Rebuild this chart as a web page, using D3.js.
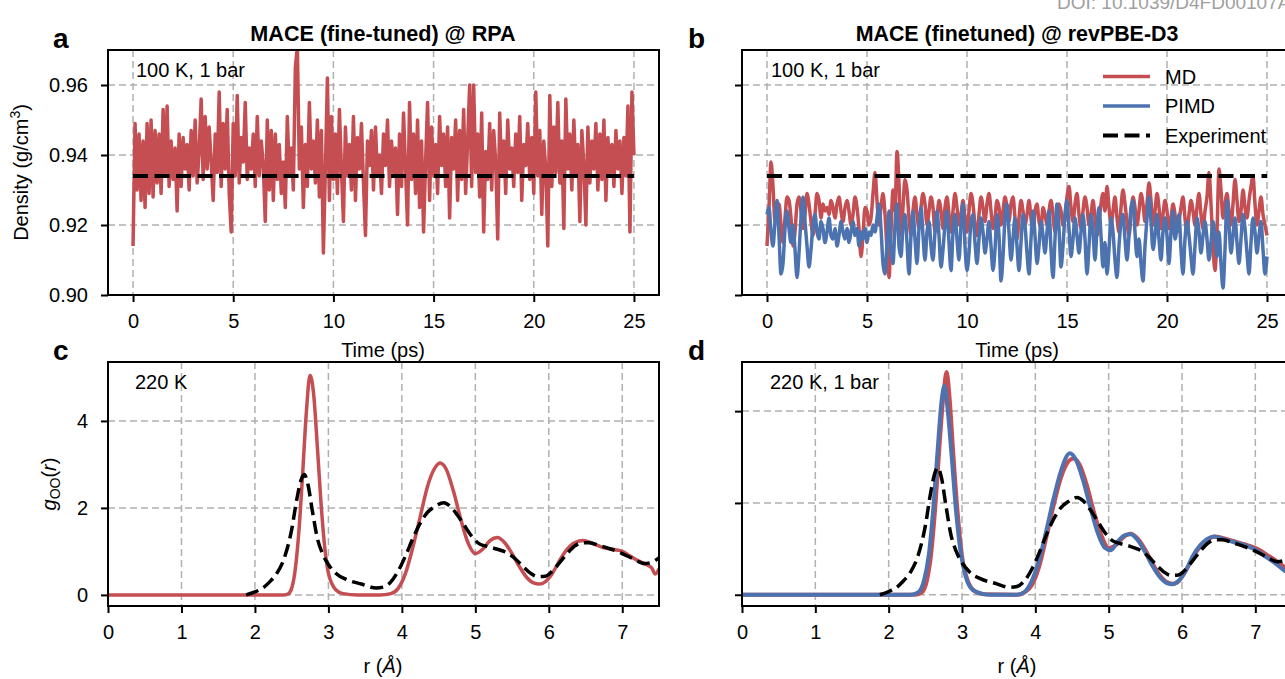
<!DOCTYPE html>
<html>
<head>
<meta charset="utf-8">
<script src="https://cdn.jsdelivr.net/npm/d3@7"></script>
<style>
  body { margin: 0; background: #fff; }
  text { font-family: "Liberation Sans", Arial, sans-serif; }
</style>
</head>
<body>
<svg id="fig" width="1285" height="679"></svg>
<script>
// ---- data ----
const timeStep = 0.1; // ps between density samples
const expDensity = 0.934;

// a: MACE (fine-tuned) @ RPA, MD density (g/cm3), 0..25 ps
const rpaDensityMD = [
  0.914, 0.949, 0.930, 0.946, 0.927, 0.944, 0.925, 0.949, 0.929, 0.950,
  0.928, 0.947, 0.932, 0.946, 0.929, 0.953, 0.934, 0.954, 0.931, 0.944,
  0.933, 0.942, 0.924, 0.946, 0.931, 0.945, 0.936, 0.943, 0.930, 0.947,
  0.934, 0.950, 0.932, 0.941, 0.956, 0.933, 0.951, 0.936, 0.948, 0.938,
  0.927, 0.946, 0.935, 0.958, 0.931, 0.949, 0.936, 0.953, 0.929, 0.918,
  0.949, 0.934, 0.957, 0.932, 0.945, 0.938, 0.955, 0.933, 0.942, 0.936,
  0.946, 0.931, 0.951, 0.934, 0.944, 0.937, 0.921, 0.950, 0.930, 0.947,
  0.927, 0.946, 0.933, 0.943, 0.929, 0.938, 0.925, 0.951, 0.934, 0.942,
  0.930, 0.965, 0.971, 0.936, 0.948, 0.925, 0.943, 0.931, 0.955, 0.936,
  0.944, 0.932, 0.950, 0.928, 0.947, 0.912, 0.936, 0.962, 0.927, 0.951,
  0.933, 0.946, 0.929, 0.953, 0.936, 0.921, 0.948, 0.934, 0.943, 0.930,
  0.951, 0.927, 0.945, 0.936, 0.949, 0.932, 0.917, 0.944, 0.937, 0.947,
  0.930, 0.948, 0.934, 0.940, 0.929, 0.946, 0.937, 0.950, 0.931, 0.944,
  0.935, 0.942, 0.923, 0.946, 0.931, 0.952, 0.936, 0.920, 0.955, 0.933,
  0.946, 0.929, 0.950, 0.925, 0.944, 0.918, 0.938, 0.955, 0.927, 0.948,
  0.934, 0.943, 0.929, 0.951, 0.937, 0.946, 0.931, 0.948, 0.922, 0.945,
  0.936, 0.950, 0.927, 0.947, 0.933, 0.953, 0.929, 0.944, 0.960, 0.931,
  0.960, 0.935, 0.946, 0.928, 0.952, 0.918, 0.941, 0.933, 0.949, 0.930,
  0.947, 0.938, 0.916, 0.952, 0.934, 0.944, 0.929, 0.950, 0.936, 0.942,
  0.931, 0.946, 0.935, 0.951, 0.927, 0.943, 0.937, 0.949, 0.933, 0.945,
  0.929, 0.958, 0.934, 0.947, 0.923, 0.944, 0.936, 0.914, 0.957, 0.931,
  0.948, 0.935, 0.955, 0.932, 0.944, 0.919, 0.956, 0.936, 0.946, 0.930,
  0.950, 0.934, 0.943, 0.921, 0.947, 0.937, 0.920, 0.948, 0.932, 0.944,
  0.936, 0.949, 0.930, 0.946, 0.933, 0.950, 0.927, 0.945, 0.935, 0.943,
  0.931, 0.947, 0.936, 0.944, 0.929, 0.945, 0.934, 0.954, 0.918, 0.958,
  0.940
];

// b: MACE (finetuned) @ revPBE-D3
const revDensityMD = [
  0.914, 0.925, 0.938, 0.931, 0.921, 0.925, 0.926, 0.920, 0.915, 0.922,
  0.928, 0.927, 0.922, 0.914, 0.918, 0.926, 0.928, 0.924, 0.919, 0.923,
  0.929, 0.926, 0.921, 0.917, 0.923, 0.929, 0.927, 0.922, 0.926, 0.924,
  0.925, 0.923, 0.927, 0.925, 0.922, 0.926, 0.928, 0.924, 0.921, 0.925,
  0.927, 0.924, 0.920, 0.923, 0.928, 0.925, 0.919, 0.911, 0.917, 0.925,
  0.924, 0.920, 0.922, 0.929, 0.935, 0.927, 0.920, 0.925, 0.929, 0.923,
  0.913, 0.905, 0.918, 0.930, 0.924, 0.941, 0.932, 0.917, 0.925, 0.933,
  0.930, 0.922, 0.917, 0.924, 0.928, 0.923, 0.919, 0.925, 0.929, 0.926,
  0.920, 0.924, 0.928, 0.925, 0.918, 0.922, 0.927, 0.924, 0.919, 0.925,
  0.928, 0.923, 0.918, 0.924, 0.929, 0.925, 0.920, 0.923, 0.927, 0.922,
  0.918, 0.924, 0.929, 0.926, 0.920, 0.917, 0.923, 0.928, 0.925, 0.921,
  0.926, 0.929, 0.924, 0.919, 0.922, 0.927, 0.925, 0.920, 0.924, 0.928,
  0.925, 0.921, 0.926, 0.928, 0.922, 0.916, 0.922, 0.927, 0.924, 0.920,
  0.923, 0.927, 0.922, 0.918, 0.924, 0.926, 0.921, 0.919, 0.925, 0.923,
  0.920, 0.924, 0.927, 0.923, 0.918, 0.921, 0.926, 0.924, 0.920, 0.922,
  0.928, 0.931, 0.925, 0.921, 0.926, 0.929, 0.923, 0.919, 0.924, 0.928,
  0.925, 0.920, 0.923, 0.927, 0.922, 0.917, 0.921, 0.926, 0.929, 0.924,
  0.931, 0.925, 0.920, 0.924, 0.928, 0.922, 0.918, 0.925, 0.930, 0.926,
  0.921, 0.917, 0.923, 0.928, 0.925, 0.920, 0.924, 0.929, 0.926, 0.921,
  0.926, 0.932, 0.927, 0.920, 0.924, 0.929, 0.925, 0.919, 0.923, 0.927,
  0.924, 0.919, 0.922, 0.926, 0.923, 0.918, 0.921, 0.925, 0.928, 0.922,
  0.918, 0.923, 0.927, 0.924, 0.920, 0.925, 0.929, 0.923, 0.919, 0.924,
  0.928, 0.935, 0.926, 0.914, 0.907, 0.918, 0.936, 0.930, 0.922, 0.926,
  0.929, 0.924, 0.920, 0.926, 0.933, 0.927, 0.921, 0.924, 0.930, 0.925,
  0.922, 0.927, 0.931, 0.934, 0.926, 0.920, 0.924, 0.928, 0.923, 0.920,
  0.917
];
const revDensityPIMD = [
  0.923, 0.925, 0.918, 0.914, 0.921, 0.927, 0.917, 0.906, 0.909, 0.919,
  0.924, 0.919, 0.915, 0.920, 0.913, 0.905, 0.912, 0.922, 0.928, 0.921,
  0.914, 0.908, 0.913, 0.920, 0.923, 0.918, 0.916, 0.921, 0.919, 0.915,
  0.918, 0.922, 0.917, 0.916, 0.919, 0.914, 0.917, 0.921, 0.918, 0.916,
  0.919, 0.915, 0.918, 0.921, 0.917, 0.919, 0.914, 0.918, 0.916, 0.919,
  0.915, 0.918, 0.917, 0.920, 0.918, 0.922, 0.926, 0.919, 0.909, 0.906,
  0.915, 0.924, 0.912, 0.909, 0.920, 0.926, 0.914, 0.911, 0.920, 0.923,
  0.915, 0.906, 0.917, 0.924, 0.916, 0.909, 0.919, 0.925, 0.917, 0.910,
  0.918, 0.921, 0.914, 0.910, 0.918, 0.924, 0.917, 0.908, 0.913, 0.920,
  0.924, 0.915, 0.907, 0.918, 0.923, 0.916, 0.910, 0.920, 0.926, 0.914,
  0.907, 0.912, 0.921, 0.923, 0.915, 0.909, 0.916, 0.922, 0.918, 0.912,
  0.916, 0.921, 0.914, 0.907, 0.913, 0.923, 0.917, 0.904, 0.911, 0.922,
  0.926, 0.918, 0.910, 0.916, 0.922, 0.914, 0.907, 0.915, 0.923, 0.920,
  0.912, 0.906, 0.916, 0.924, 0.917, 0.909, 0.914, 0.921, 0.917, 0.912,
  0.918, 0.924, 0.913, 0.905, 0.916, 0.926, 0.919, 0.908, 0.914, 0.923,
  0.927, 0.919, 0.911, 0.916, 0.922, 0.917, 0.912, 0.918, 0.923, 0.916,
  0.906, 0.914, 0.923, 0.918, 0.910, 0.919, 0.925, 0.917, 0.908, 0.915,
  0.906, 0.913, 0.922, 0.918, 0.910, 0.905, 0.914, 0.921, 0.923, 0.916,
  0.910, 0.917, 0.925, 0.927, 0.918, 0.911, 0.916, 0.909, 0.904, 0.914,
  0.922, 0.928, 0.921, 0.913, 0.917, 0.923, 0.916, 0.910, 0.918, 0.922,
  0.917, 0.909, 0.918, 0.924, 0.916, 0.919, 0.923, 0.913, 0.906, 0.916,
  0.921, 0.917, 0.911, 0.906, 0.914, 0.922, 0.918, 0.912, 0.917, 0.921,
  0.916, 0.910, 0.915, 0.921, 0.917, 0.911, 0.918, 0.909, 0.902, 0.913,
  0.927, 0.920, 0.912, 0.917, 0.922, 0.915, 0.909, 0.916, 0.923, 0.919,
  0.912, 0.906, 0.915, 0.922, 0.918, 0.912, 0.917, 0.921, 0.913, 0.906,
  0.911
];

// c/d: oxygen-oxygen RDF, [r (Å), g(r)]
const gooExperiment = [
  [1.88,0],[2.00,0.07],[2.10,0.15],[2.20,0.3],[2.30,0.5],[2.40,0.85],[2.50,1.5],[2.57,2.2],
  [2.63,2.65],[2.67,2.77],[2.72,2.55],[2.78,1.95],[2.85,1.3],[2.92,0.95],[3.00,0.7],[3.10,0.5],
  [3.25,0.35],[3.45,0.25],[3.65,0.16],[3.75,0.18],[3.85,0.3],[3.95,0.55],[4.05,0.9],[4.15,1.3],
  [4.25,1.65],[4.35,1.9],[4.45,2.03],[4.57,2.12],[4.65,2.05],[4.75,1.85],[4.85,1.6],[4.95,1.35],
  [5.05,1.18],[5.15,1.12],[5.30,1.05],[5.45,0.95],[5.55,0.82],[5.65,0.65],[5.75,0.5],[5.85,0.42],
  [5.95,0.43],[6.05,0.55],[6.15,0.75],[6.25,0.95],[6.35,1.12],[6.45,1.2],[6.55,1.2],[6.70,1.13],
  [6.85,1.05],[7.00,0.95],[7.15,0.83],[7.30,0.72],[7.40,0.75],[7.50,0.85]
];
const gooRpaMD = [
  [0,0],[2.40,0],[2.45,0.02],[2.50,0.15],[2.55,0.6],[2.60,1.5],[2.65,2.8],[2.70,4.2],[2.75,5.05],
  [2.80,4.6],[2.85,3.4],[2.90,2.1],[2.95,1.1],[3.00,0.5],[3.10,0.12],[3.20,0.03],[3.40,0],[3.70,0],
  [3.85,0.03],[3.95,0.15],[4.05,0.5],[4.15,1.1],[4.25,1.8],[4.35,2.5],[4.45,2.92],[4.52,3.03],
  [4.60,2.9],[4.70,2.4],[4.80,1.75],[4.90,1.2],[5.00,0.95],[5.10,1.05],[5.20,1.25],[5.30,1.32],
  [5.40,1.2],[5.50,0.95],[5.60,0.65],[5.70,0.4],[5.80,0.27],[5.87,0.25],[5.95,0.3],[6.05,0.5],
  [6.15,0.8],[6.25,1.05],[6.35,1.2],[6.47,1.25],[6.60,1.18],[6.75,1.08],[6.90,1.04],[7.00,1.0],
  [7.10,0.9],[7.20,0.8],[7.30,0.72],[7.40,0.62],[7.45,0.48],[7.50,0.6]
];
const gooRevMD = [
  [0,0],[2.35,0],[2.45,0.05],[2.52,0.3],[2.58,0.9],[2.64,2.0],[2.70,3.4],[2.75,4.4],[2.79,4.85],
  [2.83,4.3],[2.88,3.1],[2.94,1.8],[3.00,0.85],[3.08,0.3],[3.18,0.07],[3.30,0.01],[3.75,0],
  [3.85,0.05],[3.95,0.2],[4.05,0.6],[4.15,1.25],[4.25,1.95],[4.35,2.55],[4.45,2.9],[4.52,2.97],
  [4.60,2.85],[4.70,2.4],[4.80,1.8],[4.90,1.3],[5.00,1.02],[5.10,1.08],[5.20,1.25],[5.30,1.33],
  [5.40,1.22],[5.50,0.98],[5.60,0.68],[5.70,0.42],[5.80,0.27],[5.88,0.24],[5.97,0.32],[6.05,0.52],
  [6.15,0.82],[6.25,1.05],[6.35,1.2],[6.45,1.27],[6.55,1.24],[6.70,1.17],[6.85,1.1],[7.00,1.02],
  [7.15,0.88],[7.30,0.72],[7.40,0.6],[7.50,0.5]
];
const gooRevPIMD = [
  [0,0],[2.30,0],[2.40,0.05],[2.48,0.3],[2.55,0.9],[2.61,1.9],[2.67,3.2],[2.72,4.2],[2.76,4.55],
  [2.80,4.1],[2.86,3.0],[2.92,1.8],[2.98,0.95],[3.05,0.4],[3.15,0.1],[3.28,0.02],[3.40,0],[3.75,0],
  [3.85,0.06],[3.95,0.3],[4.05,0.75],[4.15,1.4],[4.25,2.1],[4.35,2.7],[4.47,3.08],[4.55,2.95],
  [4.65,2.5],[4.75,1.9],[4.85,1.35],[4.95,1.02],[5.03,0.97],[5.12,1.15],[5.22,1.3],[5.30,1.32],
  [5.40,1.18],[5.50,0.92],[5.60,0.62],[5.70,0.38],[5.80,0.25],[5.87,0.23],[5.95,0.3],[6.05,0.52],
  [6.15,0.85],[6.25,1.08],[6.35,1.22],[6.43,1.27],[6.55,1.22],[6.70,1.15],[6.85,1.08],[7.00,0.98],
  [7.15,0.82],[7.30,0.65],[7.40,0.52],[7.50,0.45]
];

const timeTicks = [0, 5, 10, 15, 20, 25];
const densityTicks = [0.90, 0.92, 0.94, 0.96];
const rTicks = [0, 1, 2, 3, 4, 5, 6, 7];
const gTicks = [0, 2, 4];
const legendLabels = ['MD', 'PIMD', 'Experiment'];

// ---- drawing ----
const RED = '#c44e52', BLUE = '#4c72b0';
const FONT = 20;
const svg = d3.select('#fig');
let clipCount = 0;

function panel(box, x, y, xTicks, yTicks, xFmt, yFmt) {
  const g = svg.append('g');
  const id = 'clip' + (clipCount++);
  svg.append('clipPath').attr('id', id)
    .append('rect')
      .attr('x', box.l).attr('y', box.t)
      .attr('width', box.r - box.l).attr('height', box.b - box.t);

  const grid = g.append('g')
      .attr('stroke', '#b0b0b0')
      .attr('stroke-width', 1.5)
      .attr('stroke-dasharray', '7,4');
  grid.selectAll('.gx').data(xTicks).join('line')
      .attr('x1', d => x(d)).attr('x2', d => x(d))
      .attr('y1', box.t).attr('y2', box.b);
  grid.selectAll('.gy').data(yTicks).join('line')
      .attr('y1', d => y(d)).attr('y2', d => y(d))
      .attr('x1', box.l).attr('x2', box.r);

  const plot = g.append('g').attr('clip-path', `url(#${id})`);

  // axes & frame drawn after data
  const finish = () => {
    const ax = g.append('g')
        .attr('transform', `translate(0,${box.b})`)
        .call(d3.axisBottom(x).tickValues(xTicks).tickSize(7).tickSizeOuter(0).tickPadding(12).tickFormat(xFmt));
    const ay = g.append('g')
        .attr('transform', `translate(${box.l},0)`)
        .call(d3.axisLeft(y).tickValues(yTicks).tickSize(7).tickSizeOuter(0).tickPadding(13).tickFormat(yFmt));
    [ax, ay].forEach(a => {
      a.select('.domain').remove();
      a.attr('font-size', FONT).attr('font-family', null);
      a.selectAll('line').attr('stroke', '#000').attr('stroke-width', 2);
      a.selectAll('text').attr('fill', '#000');
    });
    g.append('rect')
        .attr('x', box.l).attr('y', box.t)
        .attr('width', box.r - box.l).attr('height', box.b - box.t)
        .attr('fill', 'none').attr('stroke', '#000').attr('stroke-width', 2);
  };
  return { g, plot, finish };
}

function txt(x, y, s, opts = {}) {
  return svg.append('text')
      .attr('x', x).attr('y', y)
      .attr('font-size', opts.size || FONT)
      .attr('font-weight', opts.bold ? 'bold' : null)
      .attr('text-anchor', opts.anchor || 'start')
      .attr('fill', opts.fill || '#000')
      .text(s);
}

const boxA = { l: 108, r: 659, t: 50, b: 295 };
const boxB = { l: 742, r: 1292, t: 50, b: 295 };
const boxC = { l: 108, r: 659, t: 362, b: 606 };
const boxD = { l: 742, r: 1292, t: 362, b: 606 };

const fmtInt = d3.format('d');
const fmt2 = d3.format('.2f');
const none = () => '';

// time series panels
const xTimeA = d3.scaleLinear().domain([-1.25, 26.25]).range([boxA.l, boxA.r]);
const xTimeB = d3.scaleLinear().domain([-1.25, 26.25]).range([boxB.l, boxB.r]);
const yDensA = d3.scaleLinear().domain([0.90, 0.97]).range([boxA.b, boxA.t]);
const yDensB = d3.scaleLinear().domain([0.90, 0.97]).range([boxB.b, boxB.t]);

function densLine(x, y, curve) {
  return d3.line().x((d, i) => x(i * timeStep)).y(d => y(d)).curve(curve || d3.curveLinear);
}
function expLine(plot, x, y) {
  plot.append('line')
      .attr('x1', x(0)).attr('x2', x(25))
      .attr('y1', y(expDensity)).attr('y2', y(expDensity))
      .attr('stroke', '#000').attr('stroke-width', 4).attr('stroke-dasharray', '15,6.5');
}

const pa = panel(boxA, xTimeA, yDensA, timeTicks, densityTicks, fmtInt, fmt2);
pa.plot.append('path').datum(rpaDensityMD)
    .attr('d', densLine(xTimeA, yDensA))
    .attr('fill', 'none').attr('stroke', RED).attr('stroke-width', 3.5).attr('stroke-linejoin', 'round');
expLine(pa.plot, xTimeA, yDensA);
pa.finish();

const pb = panel(boxB, xTimeB, yDensB, timeTicks, densityTicks, fmtInt, none);
pb.plot.append('path').datum(revDensityMD)
    .attr('d', densLine(xTimeB, yDensB, d3.curveMonotoneX))
    .attr('fill', 'none').attr('stroke', RED).attr('stroke-width', 3.5);
pb.plot.append('path').datum(revDensityPIMD)
    .attr('d', densLine(xTimeB, yDensB, d3.curveMonotoneX))
    .attr('fill', 'none').attr('stroke', BLUE).attr('stroke-width', 3.5);
expLine(pb.plot, xTimeB, yDensB);
pb.finish();

// rdf panels
const xRC = d3.scaleLinear().domain([0, 7.5]).range([boxC.l, boxC.r]);
const xRD = d3.scaleLinear().domain([0, 7.5]).range([boxD.l, boxD.r]);
const yGC = d3.scaleLinear().domain([-0.255, 5.355]).range([boxC.b, boxC.t]);
const yGD = d3.scaleLinear().domain([-0.245, 5.07]).range([boxD.b, boxD.t]);

function rdfPath(plot, data, x, y, color, w, dash) {
  plot.append('path').datum(data)
      .attr('d', d3.line().x(d => x(d[0])).y(d => y(d[1])).curve(d3.curveMonotoneX))
      .attr('fill', 'none').attr('stroke', color).attr('stroke-width', w)
      .attr('stroke-dasharray', dash || null).attr('stroke-linejoin', 'round');
}

const pc = panel(boxC, xRC, yGC, rTicks, gTicks, fmtInt, fmtInt);
rdfPath(pc.plot, gooRpaMD, xRC, yGC, RED, 3.5);
rdfPath(pc.plot, gooExperiment, xRC, yGC, '#000', 3.5, '13,6');
pc.finish();

const pd = panel(boxD, xRD, yGD, rTicks, gTicks, fmtInt, none);
rdfPath(pd.plot, gooRevMD, xRD, yGD, RED, 4);
rdfPath(pd.plot, gooRevPIMD, xRD, yGD, BLUE, 4);
rdfPath(pd.plot, gooExperiment, xRD, yGD, '#000', 3.5, '13,6');
pd.finish();

// legend (panel b)
const legendColors = [RED, BLUE, '#000'];
const leg = svg.append('g');
legendLabels.forEach((lab, i) => {
  const yy = 76.5 + i * 29.5;
  leg.append('line')
      .attr('x1', 1103).attr('x2', 1150).attr('y1', yy).attr('y2', yy)
      .attr('stroke', legendColors[i]).attr('stroke-width', i === 2 ? 4 : 3.5)
      .attr('stroke-dasharray', i === 2 ? '15,6.5' : null);
  leg.append('text').attr('x', 1165).attr('y', yy + 7).attr('font-size', FONT).text(lab);
});

// titles, labels, annotations
txt(383, 41, 'MACE (fine-tuned) @ RPA', { bold: true, size: 21.6, anchor: 'middle' });
txt(1017, 41, 'MACE (finetuned) @ revPBE-D3', { bold: true, size: 21.4, anchor: 'middle' });
txt(53, 48, 'a', { bold: true, size: 28 });
txt(688, 48, 'b', { bold: true, size: 28 });
txt(53, 360, 'c', { bold: true, size: 28 });
txt(688, 360, 'd', { bold: true, size: 28 });
txt(1057, 9, 'DOI: 10.1039/D4FD00107A', { size: 19, fill: '#a0a0a0' });

txt(136, 77, '100 K, 1 bar');
txt(771, 77, '100 K, 1 bar');
txt(135, 389, '220 K');
txt(770, 389, '220 K, 1 bar');

txt(383, 357, 'Time (ps)', { anchor: 'middle' });
txt(1017, 357, 'Time (ps)', { anchor: 'middle' });

[383, 1017].forEach(cx => {
  const t = svg.append('text').attr('x', cx).attr('y', 673)
      .attr('font-size', FONT).attr('text-anchor', 'middle');
  t.append('tspan').text('r (');
  t.append('tspan').attr('font-style', 'italic').text('Å');
  t.append('tspan').text(')');
});

const dl = svg.append('text')
    .attr('transform', 'translate(28,172.5) rotate(-90)')
    .attr('font-size', FONT).attr('text-anchor', 'middle');
dl.append('tspan').text('Density (g/cm');
dl.append('tspan').attr('font-size', 14).attr('dy', -8).text('3');
dl.append('tspan').attr('dy', 8).text(')');

const gl = svg.append('text')
    .attr('transform', 'translate(56,484) rotate(-90)')
    .attr('font-size', FONT).attr('text-anchor', 'middle');
gl.append('tspan').attr('font-style', 'italic').text('g');
gl.append('tspan').attr('font-size', 14).attr('dy', 4).text('OO');
gl.append('tspan').attr('dy', -4).text('(');
gl.append('tspan').attr('font-style', 'italic').text('r');
gl.append('tspan').text(')');
</script>
</body>
</html>
